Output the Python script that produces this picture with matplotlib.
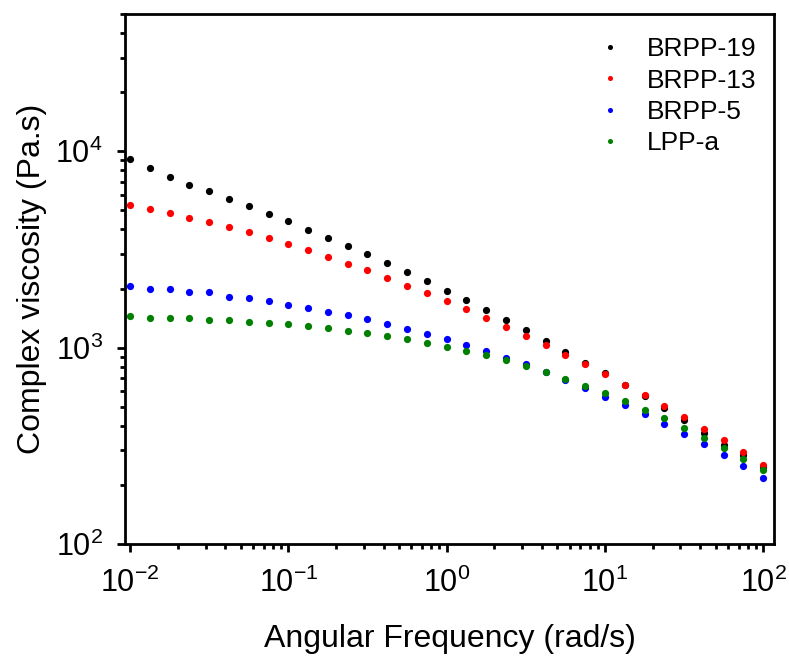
import matplotlib
matplotlib.use("Agg")
import matplotlib.pyplot as plt
from matplotlib.ticker import LogLocator, NullFormatter

plt.rcParams['font.family'] = ['Liberation Sans', 'DejaVu Sans']
plt.rcParams['mathtext.fontset'] = 'custom'
plt.rcParams['mathtext.rm'] = 'Liberation Sans'
plt.rcParams['mathtext.it'] = 'Liberation Sans'

# angular frequency sweep (rad/s)
freq = [0.01, 0.0133, 0.0178, 0.0237, 0.0316, 0.0422, 0.0562, 0.075,
        0.1, 0.133, 0.178, 0.237, 0.316, 0.422, 0.562, 0.75,
        1, 1.33, 1.78, 2.37, 3.16, 4.22, 5.62, 7.5,
        10, 13.3, 17.8, 23.7, 31.6, 42.2, 56.2, 75, 100]

# complex viscosity (Pa.s)
brpp19 = [9100, 8170, 7430, 6770, 6260, 5720, 5250, 4800, 4400, 3995, 3622,
          3285, 2981, 2682, 2423, 2180, 1939, 1745, 1546, 1375, 1223, 1079,
          954, 837, 739, 648, 568, 490, 426, 369, 319, 285, 248]
brpp13 = [5311, 5086, 4836, 4577, 4368, 4105, 3872, 3609, 3351, 3134, 2888,
          2670, 2471, 2250, 2063, 1888, 1719, 1564, 1408, 1272, 1144, 1030,
          919, 821, 730, 644, 571, 504, 443, 386, 337, 294, 254]
brpp5 = [2056, 1990, 1985, 1923, 1916, 1814, 1780, 1719, 1646, 1589, 1525,
         1458, 1392, 1313, 1247, 1172, 1101, 1030, 960, 887, 821, 752,
         683, 624, 562, 510, 457, 409, 364, 324, 284, 249, 218]
lppa = [1447, 1418, 1413, 1408, 1385, 1375, 1348, 1328, 1313, 1282, 1257,
        1213, 1185, 1144, 1105, 1058, 1009, 960, 915, 861, 805, 750,
        692, 637, 585, 532, 483, 436, 391, 348, 309, 272, 237]

series = [("BRPP-19", brpp19, "black"),
          ("BRPP-13", brpp13, "red"),
          ("BRPP-5", brpp5, "blue"),
          ("LPP-a", lppa, "green")]

fig = plt.figure(figsize=(7.89, 6.56), dpi=100)
ax = fig.add_axes([125 / 789, 1 - 544 / 656, (774 - 125) / 789, (544 - 14) / 656])

for name, vals, col in series:
    ax.plot(freq, vals, 'o', color=col, markersize=5.2, markeredgewidth=0, label=name)

ax.set_xscale('log')
ax.set_yscale('log')
ax.set_xlim(0.0093, 117)
ax.set_ylim(100, 50000)

ax.xaxis.set_major_locator(LogLocator(base=10, numticks=10))
ax.xaxis.set_minor_locator(LogLocator(base=10, subs=range(2, 10), numticks=20))
ax.yaxis.set_minor_locator(LogLocator(base=10, subs=range(2, 10), numticks=20))
ax.xaxis.set_minor_formatter(NullFormatter())
ax.yaxis.set_minor_formatter(NullFormatter())

for s in ax.spines.values():
    s.set_linewidth(2)
ax.tick_params(which='both', direction='out', top=False, right=False, width=2)
ax.tick_params(which='major', length=6, labelsize=22)
ax.tick_params(axis='x', which='major', pad=11)
ax.tick_params(axis='y', which='major', pad=10)
ax.tick_params(which='minor', length=3.5)

ax.set_xlabel('Angular Frequency (rad/s)', fontsize=23, labelpad=18)
ax.set_ylabel('Complex viscosity (Pa.s)', fontsize=23, labelpad=6)

ax.legend(loc='upper left', bbox_to_anchor=(589 / 789, 1 - 24 / 656),
          bbox_transform=fig.transFigure, frameon=False, fontsize=19,
          markerscale=0.7, handlelength=0.6, handletextpad=1.1,
          labelspacing=0.28, borderpad=0)

fig.savefig('out.png', dpi=100)
